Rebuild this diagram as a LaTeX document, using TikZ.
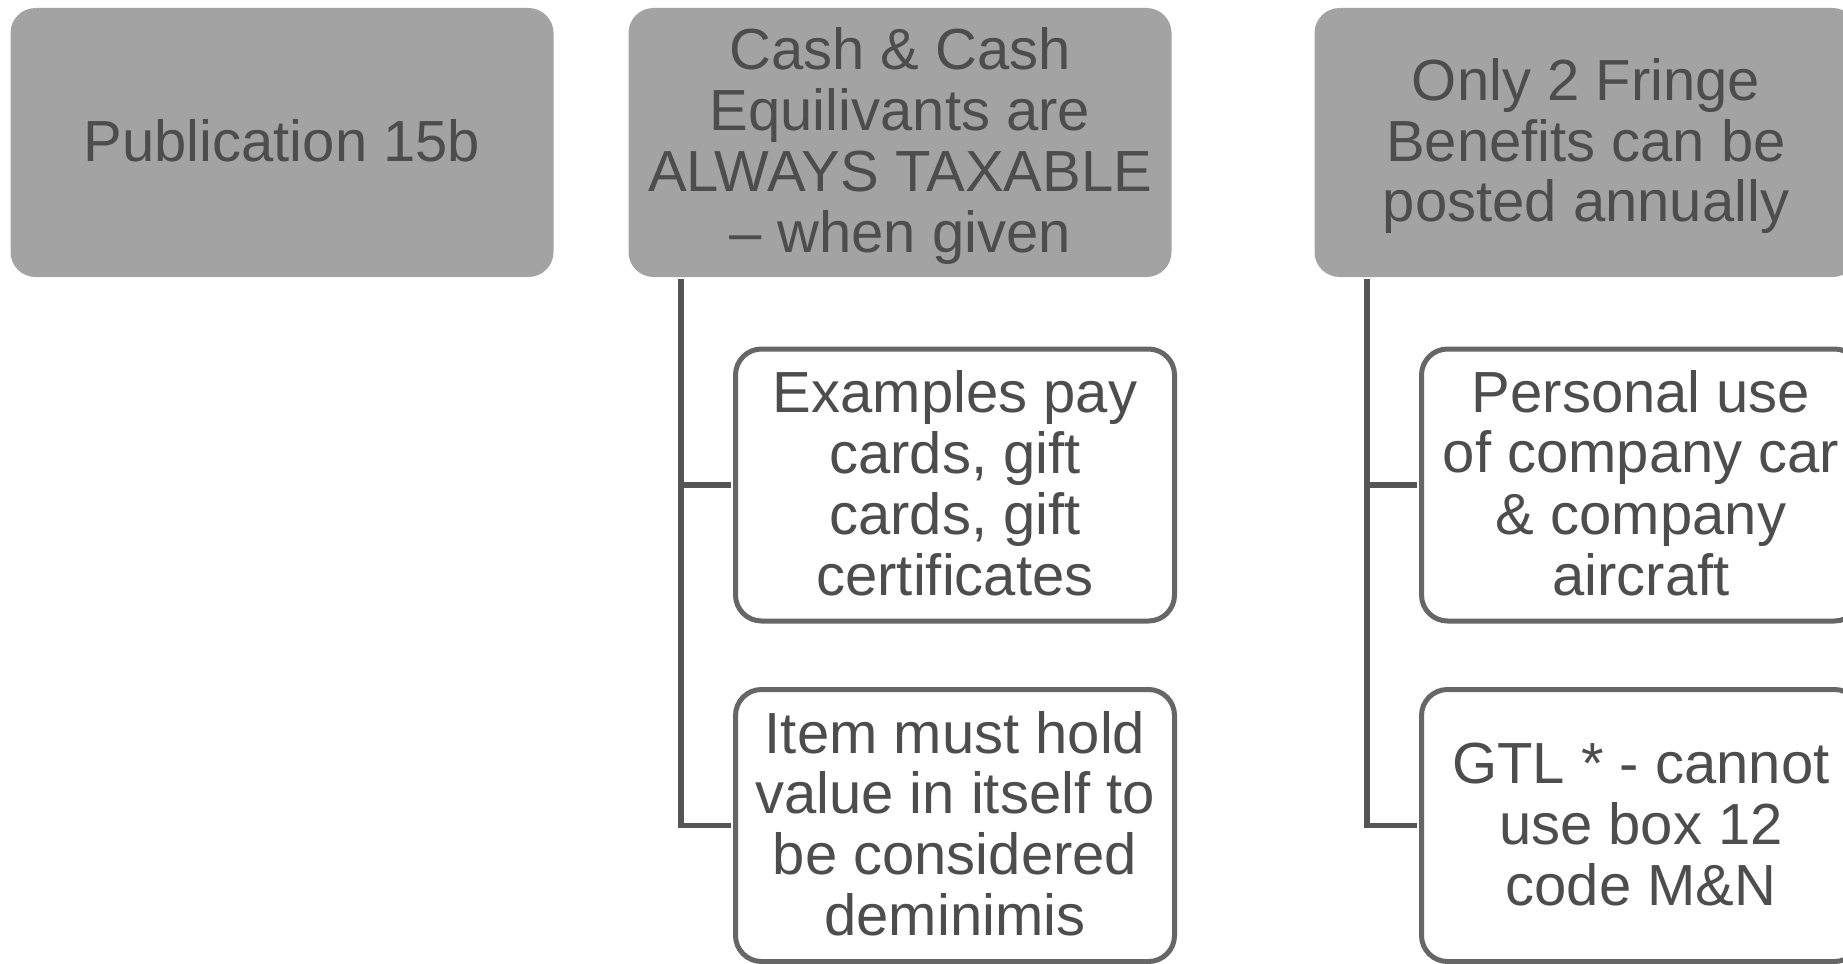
\documentclass[tikz,border=0pt]{standalone}
\usepackage{fontspec}
\setmainfont{Liberation Sans}
\definecolor{topfill}{HTML}{A3A3A3}
\definecolor{txt}{HTML}{4D4D4D}
\definecolor{cborder}{HTML}{666666}
\definecolor{conn}{HTML}{555555}
\newcommand{\bfnt}{\fontsize{58}{60.8}\selectfont\setbox\strutbox\hbox{\vrule height 49.1pt depth 11.7pt width 0pt}}
\newcommand{\bt}[1]{\begin{tabular}{@{}c@{}}#1\end{tabular}}
\begin{document}
\begin{tikzpicture}[x=1pt,y=-1pt,
  topbox/.style={rectangle, rounded corners=25pt, fill=topfill, minimum width=543pt, minimum height=269pt, inner sep=0pt, text=txt, font=\bfnt},
  childbox/.style={rectangle, rounded corners=26pt, draw=cborder, line width=5pt, fill=white, minimum width=439pt, minimum height=272pt, inner sep=0pt, text=txt, font=\bfnt},
  link/.style={draw=conn, line width=5.5pt}]
\useasboundingbox (0,0) rectangle (1843,963);
\clip (0,0) rectangle (1843,963);
\node[topbox] (pub) at (282,142.5) {\bt{Publication 15b}};
\node[topbox] (cash) at (900,142.5) {\bt{Cash \& Cash\\Equilivants are\\ALWAYS TAXABLE\\– when given}};
\node[topbox] (fringe) at (1586,142.5) {\bt{Only 2 Fringe\\Benefits can be\\posted annually}};
\node[childbox] (ex) at (955,485) {\bt{Examples pay\\cards, gift\\cards, gift\\certificates}};
\node[childbox] (item) at (955,825.5) {\bt{Item must hold\\value in itself to\\be considered\\deminimis}};
\node[childbox] (pers) at (1641,485) {\bt{Personal use\\of company car\\\& company\\aircraft}};
\node[childbox] (gtl) at (1641,825.5) {\bt{GTL * - cannot\\use box 12\\code M\&N}};
\coordinate (cs) at ([xshift=52.5pt,yshift=-2pt]cash.south west);
\coordinate (fs) at ([xshift=52.5pt,yshift=-2pt]fringe.south west);
\draw[link] (cs) |- ([xshift=-2.5pt]ex.west);
\draw[link] (cs) |- ([xshift=-2.5pt]item.west);
\draw[link] (fs) |- ([xshift=-2.5pt]pers.west);
\draw[link] (fs) |- ([xshift=-2.5pt]gtl.west);
\end{tikzpicture}
\end{document}
